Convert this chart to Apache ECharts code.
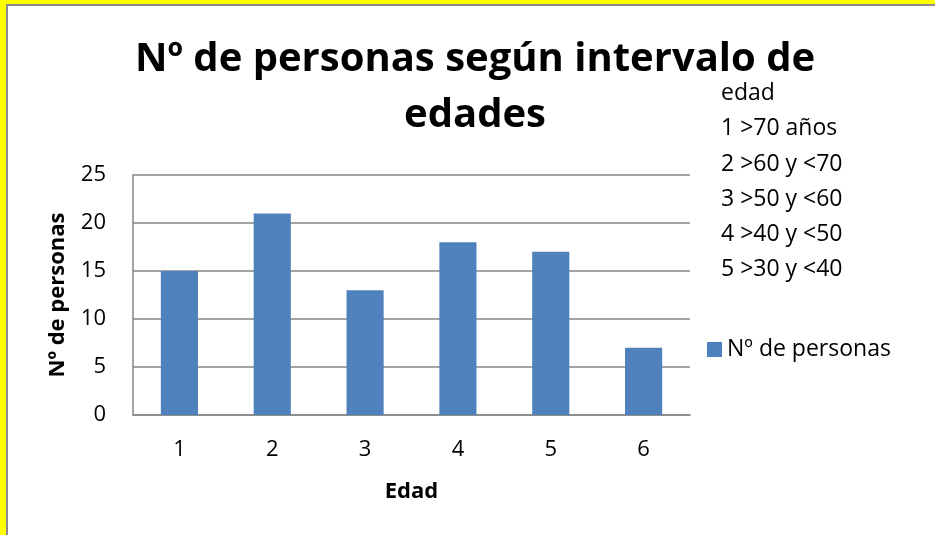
<!DOCTYPE html>
<html>
<head>
<meta charset="utf-8">
<script src="https://cdn.jsdelivr.net/npm/echarts@6/dist/echarts.min.js"></script>
<style>
  html, body { margin: 0; padding: 0; background: #ffff00; overflow: hidden; }
  #frame { position: absolute; left: 6px; top: 4px; width: 940px; height: 540px;
           background: #fff; border-left: 2px solid #8c8c8c; border-top: 2px solid #8c8c8c; }
  #main { position: absolute; left: 0; top: 0; width: 935px; height: 535px; }
</style>
</head>
<body>
<div id="frame"></div>
<div id="main"></div>
<script>
// datos
var categorias = ['1', '2', '3', '4', '5', '6'];
var personas = [15, 21, 13, 18, 17, 7];
var intervalos = ['edad', '1 >70 años', '2 >60 y <70', '3 >50 y <60', '4 >40 y <50', '5 >30 y <40'];

var fuente = 'Open Sans';
var myChart = echarts.init(document.getElementById('main'));
var option = {
    backgroundColor: 'transparent',
    textStyle: { fontFamily: fuente },
    title: [
        {
            text: 'Nº de personas según intervalo de\nedades',
            left: 475,
            top: 32,
            padding: 0,
            textAlign: 'center',
            textStyle: {
                fontFamily: fuente,
                fontSize: 40,
                fontWeight: 'bold',
                color: '#000',
                lineHeight: 56,
                align: 'center'
            }
        },
        {
            text: intervalos.join('\n'),
            left: 721,
            top: 76,
            padding: 0,
            textStyle: {
                fontFamily: fuente,
                fontSize: 23,
                fontWeight: 'normal',
                color: '#000',
                lineHeight: 35.2
            }
        }
    ],
    legend: {
        data: ['Nº de personas'],
        left: 702,
        top: 333,
        icon: 'rect',
        itemWidth: 15,
        itemHeight: 15,
        itemGap: 8,
        textStyle: { fontFamily: fuente, fontSize: 23, color: '#000' }
    },
    grid: {
        left: 133,
        right: 245,
        top: 175,
        bottom: 120
    },
    xAxis: {
        type: 'category',
        data: categorias,
        name: 'Edad',
        nameLocation: 'middle',
        nameGap: 66,
        nameTextStyle: { fontFamily: fuente, fontSize: 22, fontWeight: 'bold', color: '#000' },
        axisLine: { lineStyle: { color: '#868686', width: 1.5 } },
        axisTick: { show: false },
        axisLabel: { fontFamily: fuente, fontSize: 22, color: '#000', margin: 24 }
    },
    yAxis: {
        type: 'value',
        min: 0,
        max: 25,
        interval: 5,
        name: 'Nº de personas',
        nameLocation: 'middle',
        nameGap: 64,
        nameRotate: 90,
        nameTextStyle: { fontFamily: fuente, fontSize: 22, fontWeight: 'bold', color: '#000' },
        axisLine: { show: true, lineStyle: { color: '#868686', width: 1.5 } },
        axisTick: { show: false },
        splitLine: { lineStyle: { color: '#868686', width: 1.5 } },
        axisLabel: { fontFamily: fuente, fontSize: 22, color: '#000', margin: 27 }
    },
    series: [{
        name: 'Nº de personas',
        type: 'bar',
        data: personas,
        barWidth: '40%',
        itemStyle: { color: '#4f81bd' }
    }]
};
myChart.setOption(option);
</script>
</body>
</html>
